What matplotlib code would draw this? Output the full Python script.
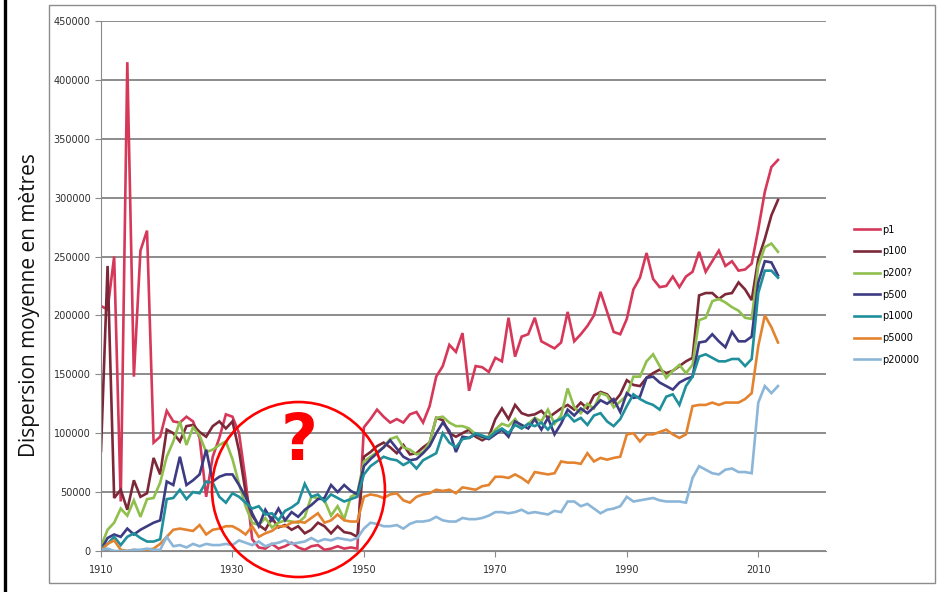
import matplotlib
matplotlib.use('Agg')
import matplotlib.pyplot as plt
from matplotlib.patches import Ellipse, Rectangle
from matplotlib.lines import Line2D

years = list(range(1910, 2014))

p1 = [208000, 205000, 250000, 42000, 415000, 148000, 255000, 272000, 92000, 97000,
      119000, 110000, 109000, 114000, 110000, 96000, 46000, 80000, 96000, 116000,
      114000, 100000, 60000, 10000, 3000, 2000, 6000, 2000, 4000, 7000,
      3000, 1000, 4000, 5000, 1000, 2000, 4000, 2000, 3000, 2000,
      105000, 112000, 120000, 114000, 109000, 112000, 109000, 116000, 118000, 109000,
      123000, 148000, 157000, 175000, 169000, 185000, 136000, 157000, 156000, 152000,
      164000, 161000, 198000, 165000, 182000, 184000, 198000, 178000, 175000, 172000,
      177000, 203000, 178000, 184000, 191000, 200000, 220000, 203000, 186000, 184000,
      197000, 222000, 232000, 253000, 231000, 224000, 225000, 233000, 224000, 233000,
      237000, 254000, 237000, 246000, 255000, 242000, 246000, 238000, 239000, 244000,
      273000, 305000, 326000, 332000]

p100 = [85000, 242000, 45000, 52000, 35000, 60000, 46000, 49000, 79000, 65000,
        103000, 100000, 93000, 106000, 107000, 101000, 97000, 106000, 110000, 104000,
        110000, 85000, 50000, 30000, 22000, 18000, 28000, 20000, 22000, 18000,
        21000, 15000, 18000, 24000, 21000, 15000, 21000, 16000, 15000, 12000,
        80000, 84000, 89000, 92000, 88000, 83000, 90000, 82000, 83000, 88000,
        92000, 113000, 111000, 100000, 97000, 100000, 103000, 97000, 94000, 97000,
        112000, 121000, 112000, 124000, 117000, 115000, 116000, 119000, 113000, 117000,
        121000, 124000, 120000, 126000, 121000, 132000, 135000, 133000, 126000, 133000,
        145000, 141000, 140000, 147000, 151000, 154000, 151000, 153000, 157000, 161000,
        164000, 217000, 219000, 219000, 214000, 218000, 219000, 228000, 222000, 213000,
        248000, 265000, 285000, 298000]

p200 = [4000, 18000, 24000, 36000, 30000, 43000, 29000, 44000, 45000, 58000,
        80000, 93000, 110000, 90000, 105000, 98000, 84000, 86000, 90000, 93000,
        78000, 57000, 38000, 24000, 22000, 28000, 20000, 24000, 26000, 25000,
        24000, 29000, 46000, 45000, 43000, 30000, 38000, 27000, 46000, 49000,
        76000, 80000, 84000, 88000, 95000, 97000, 88000, 86000, 82000, 84000,
        92000, 113000, 114000, 109000, 106000, 106000, 104000, 99000, 96000, 97000,
        103000, 108000, 106000, 112000, 104000, 108000, 113000, 110000, 120000, 108000,
        115000, 138000, 122000, 117000, 125000, 121000, 134000, 132000, 122000, 127000,
        132000, 148000, 148000, 161000, 167000, 157000, 147000, 153000, 158000, 151000,
        158000, 196000, 198000, 212000, 214000, 211000, 207000, 204000, 198000, 197000,
        242000, 258000, 261000, 254000]

p500 = [1000, 11000, 14000, 12000, 19000, 14000, 18000, 21000, 24000, 26000,
        59000, 56000, 80000, 56000, 60000, 65000, 86000, 59000, 63000, 65000,
        65000, 56000, 46000, 32000, 21000, 35000, 26000, 36000, 26000, 33000,
        29000, 35000, 39000, 44000, 45000, 56000, 50000, 56000, 51000, 48000,
        72000, 78000, 83000, 88000, 94000, 87000, 80000, 77000, 78000, 83000,
        89000, 100000, 109000, 102000, 84000, 97000, 96000, 99000, 97000, 95000,
        99000, 103000, 97000, 110000, 107000, 104000, 112000, 103000, 113000, 99000,
        108000, 120000, 115000, 121000, 117000, 122000, 128000, 125000, 129000, 118000,
        134000, 130000, 131000, 147000, 148000, 143000, 140000, 137000, 143000, 146000,
        148000, 177000, 178000, 184000, 178000, 173000, 186000, 178000, 178000, 182000,
        228000, 246000, 245000, 234000]

p1000 = [2000, 6000, 12000, 5000, 12000, 15000, 11000, 8000, 8000, 10000,
         44000, 45000, 52000, 44000, 50000, 49000, 59000, 58000, 46000, 41000,
         49000, 46000, 41000, 36000, 38000, 31000, 32000, 26000, 34000, 37000,
         41000, 57000, 46000, 48000, 42000, 48000, 45000, 42000, 44000, 46000,
         65000, 72000, 76000, 80000, 78000, 77000, 73000, 76000, 70000, 77000,
         80000, 83000, 100000, 92000, 88000, 95000, 96000, 100000, 98000, 96000,
         101000, 104000, 100000, 107000, 104000, 108000, 106000, 109000, 103000, 110000,
         112000, 116000, 110000, 113000, 107000, 115000, 117000, 110000, 106000, 112000,
         123000, 133000, 129000, 126000, 124000, 120000, 131000, 133000, 124000, 140000,
         148000, 165000, 167000, 164000, 161000, 161000, 163000, 163000, 157000, 163000,
         219000, 238000, 238000, 232000]

p5000 = [0, 6000, 9000, 1000, 0, 1000, 0, 1000, 2000, 6000,
         12000, 18000, 19000, 18000, 17000, 22000, 14000, 18000, 19000, 21000,
         21000, 18000, 14000, 21000, 12000, 15000, 17000, 21000, 21000, 24000,
         25000, 24000, 28000, 32000, 24000, 26000, 31000, 26000, 25000, 25000,
         46000, 48000, 47000, 45000, 48000, 49000, 43000, 41000, 46000, 48000,
         49000, 52000, 51000, 52000, 49000, 54000, 53000, 52000, 55000, 56000,
         63000, 63000, 62000, 65000, 62000, 58000, 67000, 66000, 65000, 66000,
         76000, 75000, 75000, 74000, 83000, 76000, 79000, 77500, 79000, 80000,
         99000, 100000, 93000, 99000, 99000, 101000, 103000, 99000, 96000, 99000,
         123000, 124000, 124000, 126000, 124000, 126000, 126000, 126000, 129000, 134000,
         174000, 200000, 190000, 177000]

p20000 = [1000, 2000, 0, 0, 0, 1000, 1000, 2000, 1000, 1000,
          12000, 4000, 5000, 3000, 6000, 4000, 6000, 5000, 5000, 6000,
          5000, 9000, 7000, 5000, 8000, 4000, 6000, 7000, 9000, 6000,
          7000, 8000, 11000, 8000, 10000, 9000, 11000, 10000, 9000, 11000,
          19000, 24000, 23000, 21000, 21000, 22000, 19000, 23000, 25000, 25000,
          26000, 29000, 26000, 25000, 25000, 28000, 27000, 27000, 28000, 30000,
          33000, 33000, 32000, 33000, 35000, 32000, 33000, 32000, 31000, 34000,
          33000, 42000, 42000, 38000, 40000, 36000, 32000, 35000, 36000, 38000,
          46000, 42000, 43000, 44000, 45000, 43000, 42000, 42000, 42000, 41000,
          62000, 72000, 69000, 66000, 65000, 69000, 70000, 67000, 67000, 66000,
          126000, 140000, 134000, 140000]

series = [('p1', p1, '#d6385a'), ('p100', p100, '#7c2838'),
          ('p200?', p200, '#8fbf4d'), ('p500', p500, '#3d3b82'),
          ('p1000', p1000, '#1f8f9c'), ('p5000', p5000, '#e4832f'),
          ('p20000', p20000, '#8cb6d8')]

ytick_vals = list(range(0, 450001, 50000))
xtick_vals = [1910, 1930, 1950, 1970, 1990, 2010]

fig = plt.figure(figsize=(9.52, 5.92), dpi=100)
ax = fig.add_axes([0.1061, 0.0693, 0.7615, 0.8953])

for name, vals, col in series:
    ax.plot(years, vals, color=col, lw=1.9, label=name, solid_joinstyle='miter')

ax.set_xlim(1910, 2020.3)
ax.set_ylim(0, 450000)
ax.set_yticks(ytick_vals)
ax.set_xticks(xtick_vals)
ax.yaxis.grid(True, color='#6e6e6e', lw=1.1)
ax.set_axisbelow(True)
for s in ['top', 'right']:
    ax.spines[s].set_visible(False)
ax.spines['left'].set_color('#8a8a8a')
ax.spines['bottom'].set_color('#8a8a8a')
ax.tick_params(axis='both', colors='#8a8a8a', labelcolor='#2e2e2e',
               labelsize=7, length=4)
ax.tick_params(axis='x', pad=6)

fig.text(0.031, 0.485, 'Dispersion moyenne en mètres', rotation=90,
         ha='center', va='center', fontsize=15, family='Open Sans', color='#111111')

leg = fig.legend(loc='upper left', bbox_to_anchor=(0.893, 0.627), frameon=False,
                 fontsize=7, handlelength=2.7, handletextpad=0.15,
                 labelspacing=1.2, borderaxespad=0)

# frame of the scanned sheet and the left border
fig.add_artist(Rectangle((0.0515, 0.0152), 0.9307, 0.9764, transform=fig.transFigure,
                         fill=False, edgecolor='#8c8c8c', lw=1.0))
fig.add_artist(Line2D([0.0055, 0.0055], [0, 1], transform=fig.transFigure,
                      color='black', lw=2.4))

# question mark over the war years
fig.add_artist(Ellipse((0.3135, 0.1731), 0.1817, 0.2956, transform=fig.transFigure,
                       fill=False, edgecolor='#ff0000', lw=1.9))
fig.text(0.3145, 0.253, '?', color='#ff0000', fontsize=46, fontweight='bold',
         ha='center', va='center')

fig.savefig('out.png', dpi=100)
